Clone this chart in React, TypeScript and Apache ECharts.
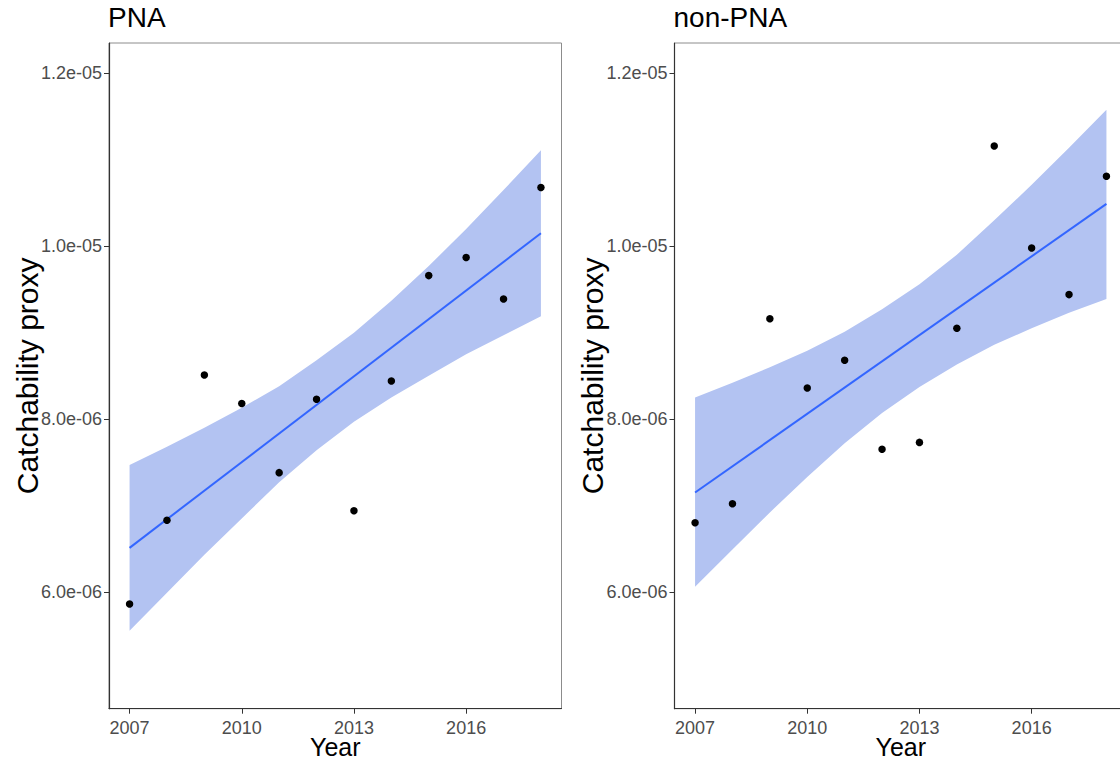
import React, { useEffect, useRef } from "react";
import * as echarts from "echarts";

const years = [2007, 2008, 2009, 2010, 2011, 2012, 2013, 2014, 2015, 2016, 2017, 2018];

const pnaValues = [5.86e-6, 6.83e-6, 8.51e-6, 8.18e-6, 7.38e-6, 8.23e-6, 6.94e-6, 8.44e-6, 9.66e-6, 9.87e-6, 9.39e-6, 10.68e-6];
const pnaFit = [6.51e-6, 10.15e-6];
const pnaUpper = [7.47e-6, 7.68e-6, 7.9e-6, 8.13e-6, 8.38e-6, 8.68e-6, 9.0e-6, 9.37e-6, 9.77e-6, 10.2e-6, 10.65e-6, 11.11e-6];
const pnaLower = [5.55e-6, 5.99e-6, 6.43e-6, 6.85e-6, 7.27e-6, 7.64e-6, 7.97e-6, 8.25e-6, 8.5e-6, 8.75e-6, 8.97e-6, 9.19e-6];

const nonValues = [6.8e-6, 7.02e-6, 9.16e-6, 8.36e-6, 8.68e-6, 7.65e-6, 7.73e-6, 9.05e-6, 11.16e-6, 9.98e-6, 9.44e-6, 10.81e-6];
const nonFit = [7.15e-6, 10.49e-6];
const nonUpper = [8.25e-6, 8.42e-6, 8.6e-6, 8.79e-6, 9.01e-6, 9.27e-6, 9.56e-6, 9.9e-6, 10.3e-6, 10.71e-6, 11.14e-6, 11.58e-6];
const nonLower = [6.06e-6, 6.49e-6, 6.92e-6, 7.33e-6, 7.72e-6, 8.07e-6, 8.37e-6, 8.63e-6, 8.86e-6, 9.05e-6, 9.23e-6, 9.39e-6];

const fitYears = [2007, 2018];
const panelTitles = ["PNA", "non-PNA"];
const xTicks = [2007, 2010, 2013, 2016];
const yTicks = [6e-6, 8e-6, 1e-5, 1.2e-5];
const yTickLabels = ["6.0e-06", "8.0e-06", "1.0e-05", "1.2e-05"];

const FONT = "'Liberation Sans', Arial, sans-serif";
const BAND = "#B3C3F2";
const LINE = "#3366FF";

export default function App() {
  const ref = useRef<HTMLDivElement>(null);
  useEffect(() => {
    if (!ref.current) return;
    const chart = echarts.init(ref.current, undefined, { renderer: "svg" });
    const panels = [
      { values: pnaValues, fit: pnaFit, upper: pnaUpper, lower: pnaLower },
      { values: nonValues, fit: nonFit, upper: nonUpper, lower: nonLower },
    ];
    const gridLefts = [109, 674.5];
    const grids = gridLefts.map((l) => ({
      left: l,
      top: 43,
      width: 452.5,
      height: 665.7,
      outerBoundsMode: "none",
      containLabel: false,
      show: true,
      borderColor: "#8c8c8c",
      borderWidth: 1,
      backgroundColor: "#fff",
    }));
    const xAxes = gridLefts.map((_, i) => ({
      type: "value",
      gridIndex: i,
      min: 2006.45,
      max: 2018.55,
      splitLine: { show: false },
      axisLine: { show: true, lineStyle: { color: "#333", width: 1.2 } },
      axisTick: { show: true, length: 5, customValues: xTicks, lineStyle: { color: "#333" } },
      axisLabel: {
        customValues: xTicks,
        formatter: (v: number) => String(Math.round(v)),
        color: "#4D4D4D",
        fontSize: 18,
        fontFamily: FONT,
        margin: 10,
      },
      name: "Year",
      nameLocation: "middle",
      nameGap: 26,
      nameMoveOverlap: false,
      nameTextStyle: { color: "#000", fontSize: 25, fontFamily: FONT, verticalAlign: "top", lineHeight: 25 },
    }));
    const yAxes = gridLefts.map((_, i) => ({
      type: "value",
      gridIndex: i,
      min: 4.649e-6,
      max: 1.2351e-5,
      splitLine: { show: false },
      axisLine: { show: true, lineStyle: { color: "#333", width: 1.2 } },
      axisTick: { show: true, length: 5, customValues: yTicks, lineStyle: { color: "#333" } },
      axisLabel: {
        customValues: yTicks,
        formatter: (v: number) => {
          const k = yTicks.findIndex((t) => Math.abs(t - v) < 1e-9);
          return k >= 0 ? yTickLabels[k] : "";
        },
        color: "#4D4D4D",
        fontSize: 18,
        fontFamily: FONT,
        margin: 7,
      },
      name: "Catchability proxy",
      nameLocation: "middle",
      nameRotate: 90,
      nameGap: 67,
      nameMoveOverlap: false,
      nameTextStyle: { color: "#000", fontSize: 30, fontFamily: FONT },
    }));
    const series: any[] = [];
    panels.forEach((p, i) => {
      series.push({
        type: "custom",
        xAxisIndex: i,
        yAxisIndex: i,
        silent: true,
        clip: true,
        data: years.map((y, k) => [y, p.lower[k], p.upper[k]]),
        renderItem: (params: any, api: any) => {
          if (params.dataIndex !== 0) return { type: "group", children: [] };
          const pts: number[][] = [];
          years.forEach((y, k) => pts.push(api.coord([y, p.upper[k]])));
          for (let k = years.length - 1; k >= 0; k--) pts.push(api.coord([years[k], p.lower[k]]));
          return { type: "polygon", shape: { points: pts }, style: { fill: BAND } };
        },
        z: 1,
      });
      series.push({
        type: "line",
        xAxisIndex: i,
        yAxisIndex: i,
        data: fitYears.map((y, k) => [y, p.fit[k]]),
        showSymbol: false,
        symbol: "none",
        lineStyle: { color: LINE, width: 2 },
        z: 2,
      });
      series.push({
        type: "scatter",
        xAxisIndex: i,
        yAxisIndex: i,
        data: years.map((y, k) => [y, p.values[k]]),
        symbol: "circle",
        symbolSize: 7.5,
        itemStyle: { color: "#000", opacity: 1 },
        z: 3,
      });
    });
    chart.setOption({
      animation: false,
      backgroundColor: "#fff",
      textStyle: { fontFamily: FONT },
      title: panelTitles.map((t, i) => ({
        text: t,
        left: gridLefts[i] - 1,
        top: 3,
        padding: 0,
        textStyle: { fontSize: 28, fontWeight: "normal", color: "#000", fontFamily: FONT },
      })),
      grid: grids,
      xAxis: xAxes,
      yAxis: yAxes,
      series,
    });
    return () => chart.dispose();
  }, []);
  return (
    <div
      ref={ref}
      style={{ position: "absolute", left: 0, top: 0, width: 1120, height: 761, overflow: "hidden" }}
    />
  );
}
